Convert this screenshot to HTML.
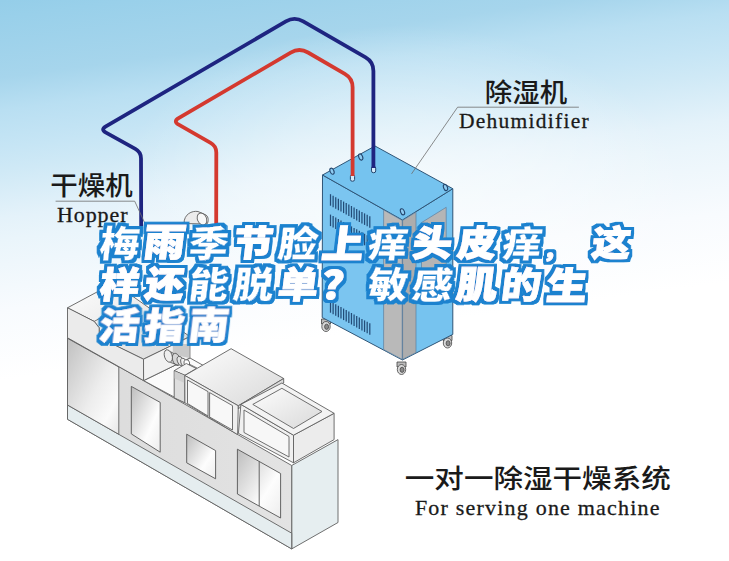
<!DOCTYPE html>
<html lang="zh-CN"><head><meta charset="utf-8"><title>一对一除湿干燥系统</title>
<style>
html,body{margin:0;padding:0;background:#fff;}
body{width:729px;height:561px;overflow:hidden;position:relative;font-family:"Liberation Sans","Noto Sans CJK SC",sans-serif;}
svg{position:absolute;left:0;top:0;display:block;}
.cn{font-family:"Liberation Sans","Noto Sans CJK SC",sans-serif;fill:#1a1a1a;font-weight:500;}
.en{font-family:"Liberation Serif","Noto Serif CJK SC",serif;fill:#1a1a1a;stroke:#1a1a1a;stroke-width:0.3px;}
.ttl{font-family:"Liberation Sans","Noto Sans CJK SC",sans-serif;font-weight:900;font-size:37px;fill:#fff;stroke:#1a82cf;stroke-width:0.25px;stroke-linejoin:miter;stroke-miterlimit:2;}
.ln{fill:none;stroke:#6e6e6e;stroke-width:0.8;stroke-linejoin:round;}
.f{stroke:#606060;stroke-width:0.9;stroke-linejoin:round;}
.d{stroke:#2f5577;stroke-width:1;stroke-linejoin:round;}
</style></head><body>
<svg width="729" height="561" viewBox="0 0 729 561">
<defs>
<linearGradient id="bg" gradientUnits="userSpaceOnUse" x1="450" y1="-60" x2="503" y2="332.9">
<stop offset="0.0000" stop-color="#95cee9"/>
<stop offset="0.0425" stop-color="#99d0ea"/>
<stop offset="0.1925" stop-color="#a6d5ec"/>
<stop offset="0.2750" stop-color="#b9dff2"/>
<stop offset="0.3675" stop-color="#c6e5f5"/>
<stop offset="0.4250" stop-color="#cfe9f6"/>
<stop offset="0.5425" stop-color="#e4f2fa"/>
<stop offset="0.6000" stop-color="#eaf5fb"/>
<stop offset="0.7750" stop-color="#f8fbfe"/>
<stop offset="0.9500" stop-color="#ffffff"/>
<stop offset="1.0000" stop-color="#ffffff"/>
</linearGradient>
<radialGradient id="glow" gradientUnits="userSpaceOnUse" cx="0" cy="0" r="1" gradientTransform="translate(400 205) scale(290 180)">
<stop offset="0" stop-color="#fff" stop-opacity="0.55"/>
<stop offset="0.5" stop-color="#fff" stop-opacity="0.36"/>
<stop offset="0.83" stop-color="#fff" stop-opacity="0.12"/>
<stop offset="1" stop-color="#fff" stop-opacity="0"/>
</radialGradient>
<linearGradient id="gp" x1="0" y1="0" x2="1" y2="1">
<stop offset="0" stop-color="#c0c0c0"/><stop offset="0.55" stop-color="#ededed"/><stop offset="0.8" stop-color="#fafafa"/><stop offset="1" stop-color="#e6e6e6"/>
</linearGradient>
<linearGradient id="gd" x1="0" y1="0" x2="1" y2="1">
<stop offset="0" stop-color="#bdbdbd"/><stop offset="0.65" stop-color="#fdfdfd"/><stop offset="1" stop-color="#ededed"/>
</linearGradient>
<linearGradient id="gt" x1="0" y1="0" x2="1" y2="1">
<stop offset="0" stop-color="#fdfdfd"/><stop offset="1" stop-color="#d9d9d9"/>
</linearGradient>
<linearGradient id="gf" x1="0" y1="0" x2="1" y2="0">
<stop offset="0" stop-color="#dbdbdb"/><stop offset="1" stop-color="#e3e3e3"/>
</linearGradient>
<filter id="ol" x="-5%" y="-10%" width="110%" height="120%">
<feMorphology in="SourceAlpha" operator="dilate" radius="3" result="d"/>
<feFlood flood-color="#1a82cf"/><feComposite in2="d" operator="in" result="b"/>
<feMerge><feMergeNode in="b"/><feMergeNode in="SourceGraphic"/></feMerge>
</filter>
</defs>
<rect width="729" height="561" fill="url(#bg)"/>
<rect width="729" height="561" fill="url(#glow)"/>

<g class="f" fill="#ececec"><path d="M184,223.5 C184,214 192,210.5 198,211.5 L206,215 C209,217 208.5,222 207,224 Z"/><ellipse cx="202" cy="219" rx="4.5" ry="6.2" transform="rotate(-25 202 219)" fill="#f8f8f8"/></g>
<g stroke="#444" stroke-width="0.8"><path d="M321.5,319.0 h9 v5 h-9z" fill="#bbb"/><ellipse cx="326.0" cy="326.5" rx="4.2" ry="5" fill="#d9d9d9"/><ellipse cx="326.6" cy="326.8" rx="2" ry="2.6" fill="#8a8a8a"/></g>
<g stroke="#444" stroke-width="0.8"><path d="M397.0,362.0 h9 v5 h-9z" fill="#bbb"/><ellipse cx="401.5" cy="369.5" rx="4.2" ry="5" fill="#d9d9d9"/><ellipse cx="402.1" cy="369.8" rx="2" ry="2.6" fill="#8a8a8a"/></g>
<g stroke="#444" stroke-width="0.8"><path d="M443.0,335.5 h9 v5 h-9z" fill="#bbb"/><ellipse cx="447.5" cy="343.0" rx="4.2" ry="5" fill="#d9d9d9"/><ellipse cx="448.1" cy="343.3" rx="2" ry="2.6" fill="#8a8a8a"/></g>
<polygon class="d" fill="#7bc5f0" points="322.5,175.0 402.4,220.0 402.4,360.0 322.2,317.5"/>
<polygon class="d" fill="#76c3ef" points="402.4,220.0 452.8,188.7 452.8,334.4 402.4,360.0"/>
<polygon class="d" fill="#75c3ef" points="322.5,175.0 375.0,146.0 452.8,188.7 402.4,220.0"/>
<polygon fill="#b9b9b9" stroke="#5a7fa0" stroke-width="0.7" points="383.6,209.9 402.2,220.4 402.2,359.4 383.6,349.5"/>
<polygon fill="#adadad" stroke="#5a7fa0" stroke-width="0.7" points="402.6,220.4 416.0,212.1 416.0,352.6 402.6,359.4"/>
<polygon fill="#b5b5b5" stroke="#5a7fa0" stroke-width="0.7" points="421.5,222.6 446.2,207.3 446.2,274.8 421.5,290.1"/>
<g stroke="#234c78" stroke-width="1.25">
<path d="M330.50,194.20 v11.5"/>
<path d="M333.12,195.68 v11.5"/>
<path d="M335.74,197.15 v11.5"/>
<path d="M338.36,198.63 v11.5"/>
<path d="M340.98,200.10 v11.5"/>
<path d="M343.60,201.58 v11.5"/>
<path d="M346.22,203.05 v11.5"/>
<path d="M348.84,204.53 v11.5"/>
<path d="M351.46,206.00 v11.5"/>
<path d="M354.08,207.48 v11.5"/>
<path d="M356.70,208.95 v11.5"/>
<path d="M359.32,210.43 v11.5"/>
<path d="M361.94,211.90 v11.5"/>
<path d="M364.56,213.38 v11.5"/>
<path d="M367.18,214.85 v11.5"/>
<path d="M369.80,216.33 v11.5"/>
<path d="M330.50,214.60 v11.5"/>
<path d="M333.12,216.08 v11.5"/>
<path d="M335.74,217.55 v11.5"/>
<path d="M338.36,219.03 v11.5"/>
<path d="M340.98,220.50 v11.5"/>
<path d="M343.60,221.98 v11.5"/>
<path d="M346.22,223.45 v11.5"/>
<path d="M348.84,224.93 v11.5"/>
<path d="M351.46,226.40 v11.5"/>
<path d="M354.08,227.88 v11.5"/>
<path d="M356.70,229.35 v11.5"/>
<path d="M359.32,230.83 v11.5"/>
<path d="M361.94,232.30 v11.5"/>
<path d="M364.56,233.78 v11.5"/>
<path d="M367.18,235.25 v11.5"/>
<path d="M369.80,236.73 v11.5"/>
<path d="M330.50,301.20 v11.5"/>
<path d="M333.12,302.68 v11.5"/>
<path d="M335.74,304.15 v11.5"/>
<path d="M338.36,305.63 v11.5"/>
<path d="M340.98,307.10 v11.5"/>
<path d="M343.60,308.58 v11.5"/>
<path d="M346.22,310.05 v11.5"/>
<path d="M348.84,311.53 v11.5"/>
<path d="M351.46,313.00 v11.5"/>
<path d="M354.08,314.48 v11.5"/>
<path d="M356.70,315.95 v11.5"/>
<path d="M359.32,317.43 v11.5"/>
<path d="M361.94,318.90 v11.5"/>
<path d="M364.56,320.38 v11.5"/>
<path d="M367.18,321.85 v11.5"/>
<path d="M369.80,323.33 v11.5"/>
</g>
<ellipse cx="332" cy="171.2" rx="1.9" ry="3.2" fill="#8fcdf2" stroke="#24466e" stroke-width="1.1" transform="rotate(-22 332 171.2)"/>
<ellipse cx="360.7" cy="157" rx="1.9" ry="3.2" fill="#8fcdf2" stroke="#24466e" stroke-width="1.1" transform="rotate(-22 360.7 157)"/>
<ellipse cx="402.5" cy="211.8" rx="1.9" ry="3.2" fill="#8fcdf2" stroke="#24466e" stroke-width="1.1" transform="rotate(-22 402.5 211.8)"/>
<ellipse cx="445.5" cy="187.5" rx="1.9" ry="3.2" fill="#8fcdf2" stroke="#24466e" stroke-width="1.1" transform="rotate(-22 445.5 187.5)"/>
<rect x="350.4" y="174.8" width="4.2" height="6.4" rx="1.8" fill="#d4eafa" stroke="#24466e" stroke-width="1"/>
<rect x="371.5" y="166.3" width="4.2" height="6.4" rx="1.8" fill="#d4eafa" stroke="#24466e" stroke-width="1"/>
<g fill="none" stroke-width="3.8" stroke-linejoin="round" stroke-linecap="butt">
<path d="M141.2,226.0 L141.0,158.5 Q141.0,152.0 135.3,148.9 L106.0,132.7 Q100.3,129.6 105.9,126.3 L285.9,21.4 Q294.5,16.4 303.2,21.4 L365.6,57.4 Q373.4,61.9 373.4,70.9 L373.4,168.0" stroke="#1e2480"/>
<path d="M216.2,225.0 L216.3,152.5 Q216.3,146.0 210.6,142.8 L178.7,124.7 Q173.0,121.5 178.6,118.2 L290.7,52.6 Q299.3,47.5 308.0,52.5 L344.8,73.8 Q352.6,78.3 352.6,87.3 L352.6,176.0" stroke="#d4392f"/>
</g>
<path class="ln" d="M55.6,201.2 H134.7 L145.3,224.2" stroke="#555"/>
<text class="cn" x="50.3" y="194.8" font-size="25.6" textLength="82.5" lengthAdjust="spacingAndGlyphs">干燥机</text>
<text class="en" x="57" y="222.1" font-size="22" textLength="70.5" lengthAdjust="spacing">Hopper</text>
<path class="ln" d="M578.9,107.2 H457.6 L411.5,173.9" stroke="#555"/>
<text class="cn" x="484.8" y="102.2" font-size="26.2" textLength="82.5" lengthAdjust="spacingAndGlyphs">除湿机</text>
<text class="en" x="459" y="128" font-size="21.5" textLength="129.7" lengthAdjust="spacing">Dehumidifier</text>
<text class="cn" x="404.8" y="487.5" font-size="26" textLength="266" lengthAdjust="spacingAndGlyphs">一对一除湿干燥系统</text>
<text class="en" x="414.9" y="515.3" font-size="22" textLength="244.6" lengthAdjust="spacing">For serving one machine</text>
<g class="f">
<polygon fill="#e6eef0" points="291.7,465.5 338.0,439.6 338.0,522.5 291.7,548.9"/>
<polygon fill="url(#gf)" points="67.5,337.8 143.6,380.6 291.7,465.5 291.7,548.9 67.5,419.3"/>
<polygon fill="#e5edef" points="67.5,405.0 291.7,533.2 291.7,548.9 67.5,419.3"/>
<polygon fill="url(#gp)" points="67.5,338.3 118.8,367.0 118.8,434.3 67.5,405.0"/>
<polygon fill="url(#gd)" stroke="#555" points="131.3,386.4 160.2,402.4 160.2,452.2 131.3,433.9"/>
<polygon fill="url(#gd)" stroke="#555" points="186.7,434.2 215.6,450.6 215.6,478.8 186.7,462.8"/>
<polygon fill="url(#gd)" stroke="#555" points="237.4,449.2 280.6,473.5 280.6,518.0 237.4,494.0"/>
<path d="M259.2,461.4 V506" fill="none" stroke="#555"/>
<polygon fill="#fbfbfb" points="143.6,380.6 190.0,358.0 240.0,386.0 184.9,402.8"/>
<polygon fill="url(#gt)" points="67.5,307.8 113.8,283.0 189.9,336.6 143.5,359.2 99.2,337.5 99.2,327.8 94.2,321.4"/>
<polygon fill="#ebebeb" points="67.5,307.8 94.2,321.4 99.2,327.8 99.2,337.5 143.5,359.2 143.6,380.6 67.5,337.8"/>
<polygon fill="#f1f1f1" points="143.5,359.2 189.9,336.6 189.9,358.0 143.6,380.6"/>
<path d="M94.2,321.4 L106,315" fill="none"/>
<polygon fill="#c9c9c9" stroke="none" points="172.8,344.0 189.2,344.0 189.2,358.0 172.8,354.5"/>
<g fill="#e4e4e4" stroke="#555" stroke-width="0.8"><path d="M168.3,349.6 L176.5,353.4 L176.5,365.6 L168.3,362.2 Z" fill="#dadada" stroke="none"/><ellipse cx="176.3" cy="359.4" rx="3.7" ry="6.3" transform="rotate(-18 176.3 359.4)" fill="#d6d6d6"/><path d="M166.2,350 L174.2,353.6 M170.4,362.3 L178.3,365.3" fill="none"/><ellipse cx="168.3" cy="356" rx="3.8" ry="6.4" transform="rotate(-18 168.3 356)" fill="#ededed"/><ellipse cx="180.2" cy="361" rx="2.8" ry="4.8" transform="rotate(-18 180.2 361)"/><ellipse cx="183.4" cy="362.2" rx="2.6" ry="4.2" transform="rotate(-18 183.4 362.2)" fill="#efefef"/><ellipse cx="186.8" cy="363" rx="2.8" ry="3.4" fill="#fff" transform="rotate(-18 186.8 363)"/><path d="M189,364 L197,368" fill="none"/></g>
<polygon fill="#f3f3f3" points="174.2,370.7 186.3,363.5 196.3,368.5 184.9,375.3"/>
<polygon fill="#dedede" points="174.2,370.7 184.9,375.3 184.9,402.8 174.2,397.8"/>
<polygon fill="#cfcfcf" stroke="none" points="174.6,371.3 184.5,375.6 184.5,383.0 174.6,378.5"/>
<polygon fill="url(#gt)" points="184.8,375.5 231.1,348.7 283.7,378.5 238.3,405.8"/>
<polygon fill="#efefef" points="184.8,375.5 238.3,405.8 237.6,434.6 184.9,402.8"/>
<polygon fill="#f8f8f8" points="187.5,380.0 208.0,391.6 208.0,416.0 187.5,403.5"/>
<polygon fill="#f8f8f8" points="209.6,392.6 232.5,405.6 232.5,430.0 209.6,417.0"/>
<polygon fill="#dcdcdc" points="238.3,405.8 283.7,378.5 283.7,383.0 240.9,406.5 238.4,409.0"/>
<polygon fill="#f0f0f0" points="240.9,404.4 293.5,435.2 293.5,462.8 238.4,433.4"/>
<polygon fill="#f7f7f7" points="244.0,410.0 289.0,436.5 289.0,457.0 244.0,432.5"/>
<polygon fill="#ececec" points="293.5,435.2 334.1,413.3 334.1,439.6 293.5,462.8"/>
<polygon fill="#f3f3f3" points="240.9,404.4 281.9,383.0 334.1,413.3 293.5,435.2"/>
<polygon fill="url(#gt)" points="252.8,404.4 281.9,388.3 322.0,411.5 293.5,428.5"/>
</g>
<g class="ttl" filter="url(#ol)">
<text transform="translate(0,242.6) skewX(-7) scale(1.09,1)"><tspan x="92.0" y="13.9" style="font-size:36.5px">梅</tspan><tspan x="131.7" y="13.5" style="font-size:38.5px;stroke:#fff;stroke-width:0.9px">雨</tspan><tspan x="173.7" y="13.9" style="font-size:36.5px">季</tspan><tspan x="214.9" y="13.5" style="font-size:35.6px;stroke:#fff;stroke-width:1.3px">节</tspan><tspan x="255.5" y="14.2" style="font-size:36.5px">脸</tspan><tspan x="295.9" y="15.2" style="font-size:38.0px;stroke:#fff;stroke-width:1.3px">上</tspan><tspan x="338.1" y="13.9" style="font-size:36.1px">痒</tspan><tspan x="379.3" y="13.5" style="font-size:35.4px;stroke:#fff;stroke-width:1.5px">头</tspan><tspan x="420.4" y="13.5" style="font-size:35.4px;stroke:#fff;stroke-width:1.5px">皮</tspan><tspan x="461.1" y="13.9" style="font-size:36.1px">痒</tspan><tspan x="499.6" y="15.0" style="font-size:21px;stroke:#fff;stroke-width:1px">，</tspan><tspan x="543.5" y="13.6" style="font-size:35.4px;stroke:#fff;stroke-width:1.2px">这</tspan></text>
<text transform="translate(0,284.1) skewX(-7) scale(1.09,1)"><tspan x="92.0" y="13.7" style="font-size:36.2px;stroke:#fff;stroke-width:0.8px">样</tspan><tspan x="133.5" y="13.2" style="font-size:35.3px;stroke:#fff;stroke-width:1.3px">还</tspan><tspan x="173.3" y="13.9" style="font-size:36.5px">能</tspan><tspan x="214.3" y="13.8" style="font-size:36.9px">脱</tspan><tspan x="255.5" y="14.0" style="font-size:36.8px;stroke:#fff;stroke-width:0.9px">单</tspan><tspan x="295.4" y="14.5" style="font-size:38.8px;stroke:#fff;stroke-width:0.9px">？</tspan><tspan x="338.1" y="13.9" style="font-size:36.5px">敏</tspan><tspan x="378.3" y="14.5" style="font-size:37.3px">感</tspan><tspan x="419.0" y="13.5" style="font-size:37.6px;stroke:#fff;stroke-width:0.9px">肌</tspan><tspan x="460.5" y="13.7" style="font-size:36.2px;stroke:#fff;stroke-width:0.8px">的</tspan><tspan x="502.0" y="14.5" style="font-size:36.7px;stroke:#fff;stroke-width:1.4px">生</tspan></text>
<text transform="translate(0,325.3) skewX(-7) scale(1.09,1)"><tspan x="91.9" y="13.7" style="font-size:36.0px;stroke:#fff;stroke-width:1.0px">活</tspan><tspan x="133.0" y="13.8" style="font-size:36.3px;stroke:#fff;stroke-width:0.7px">指</tspan><tspan x="173.6" y="13.7" style="font-size:36.7px;stroke:#fff;stroke-width:0.7px">南</tspan></text>
</g>
</svg></body></html>
